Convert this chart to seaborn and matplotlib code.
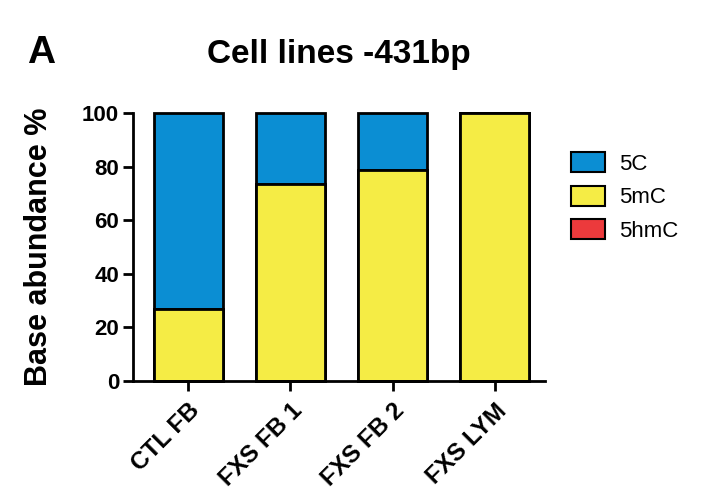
import numpy as np
import pandas as pd
import matplotlib
matplotlib.use("Agg")
import matplotlib.pyplot as plt
from matplotlib.patches import Patch
import seaborn as sns

categories = ["CTL FB", "FXS FB 1", "FXS FB 2", "FXS LYM"]
series_names = ["5C", "5mC", "5hmC"]
val_5mC = [27.0, 73.6, 78.7, 100.0]
val_5hmC = [0.0, 0.0, 0.0, 0.0]
val_5C = [73.0, 26.4, 21.3, 0.0]
yticks = [0, 20, 40, 60, 80, 100]

colors = {"5C": "#0b8ed3", "5mC": "#f5ec45", "5hmC": "#ec3a3c"}

sns.set_theme(style="white")
plt.rcParams["font.family"] = ["Liberation Sans", "DejaVu Sans"]
plt.rcParams["text.color"] = "black"
plt.rcParams["axes.labelcolor"] = "black"
plt.rcParams["xtick.color"] = "black"
plt.rcParams["ytick.color"] = "black"

fig = plt.figure(figsize=(7.08, 4.96), dpi=100)
ax = fig.add_axes([133/708, 1-381/496, (545-133)/708, (381-113)/496])

df = pd.DataFrame({"cat": categories, "5mC": val_5mC, "5hmC": val_5hmC, "5C": val_5C})
df["top_5mC"] = df["5mC"]
df["top_5hmC"] = df["5mC"] + df["5hmC"]
df["top_5C"] = df["5mC"] + df["5hmC"] + df["5C"]

for name in ["5C", "5hmC", "5mC"]:
    sns.barplot(data=df, x="cat", y="top_" + name, color=colors[name], order=categories,
                width=0.675, edgecolor="black", linewidth=2.0, saturation=1, ax=ax)

for p in ax.patches:
    p.set_clip_on(False)

ax.set_xlim(-0.54, 3.49)
ax.set_ylim(0, 100)
ax.set_yticks(yticks)
ax.set_yticklabels([str(t) for t in yticks], fontsize=16, fontweight="bold", color="black")
ax.set_xticks(range(len(categories)))
ax.set_xticklabels(categories, fontsize=17.5, fontweight="bold", rotation=45,
                   ha="right", rotation_mode="anchor", color="black")
ax.set_xlabel("")
ax.set_ylabel("")
for s in ["top", "right"]:
    ax.spines[s].set_visible(False)
for s in ["left", "bottom"]:
    ax.spines[s].set_linewidth(2.0)
    ax.spines[s].set_color("black")
ax.tick_params(axis="both", which="major", direction="out", length=7, width=2.0,
               color="black", pad=3, bottom=True, left=True)
ax.tick_params(axis="x", pad=6)

fig.text(0.055, 1-247/496, "Base abundance %", rotation=90, ha="center", va="center",
         fontsize=22, fontweight="bold", color="black")
fig.text(339/708, 1-63/496, "Cell lines -431bp", ha="center", va="baseline",
         fontsize=24, fontweight="bold", color="black")
fig.text(0.038, 1-63/496, "A", ha="left", va="baseline", fontsize=28, fontweight="bold",
         color="black")

handles = [Patch(facecolor=colors[n], edgecolor="black", linewidth=1.5) for n in series_names]
fig.legend(handles, series_names, loc="upper left", bbox_to_anchor=(571/708, 1-152/496),
           frameon=False, fontsize=16, handlelength=1.55, handleheight=1.0,
           handletextpad=0.6, labelspacing=0.5, borderaxespad=0, borderpad=0)

fig.savefig("out.png", dpi=100, facecolor="white")
